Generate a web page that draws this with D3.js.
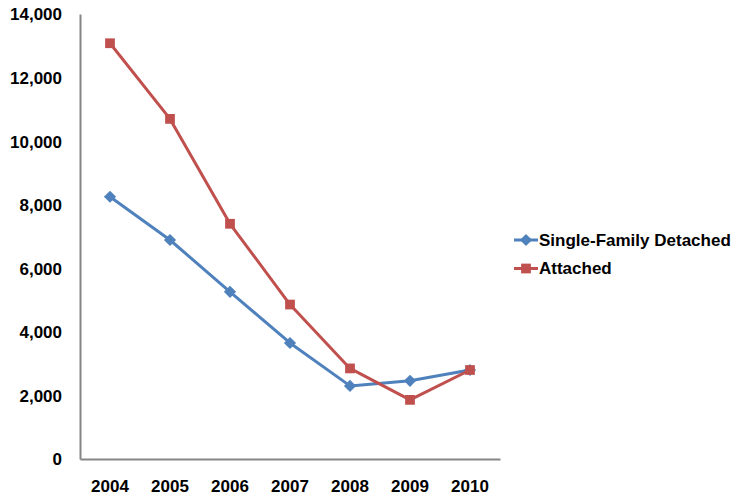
<!DOCTYPE html>
<html>
<head>
<meta charset="utf-8">
<title>Single-Family Detached vs Attached</title>
<script src="https://cdnjs.cloudflare.com/ajax/libs/d3/7.8.5/d3.min.js"></script>
<style>
	body { margin: 0; background: #fff; }
	text { font-family: "Liberation Sans", Arial, sans-serif; font-weight: bold; fill: #000; }
</style>
</head>
<body>
<svg id="chart" width="731" height="498"></svg>
<script>

	var years = ["2004", "2005", "2006", "2007", "2008", "2009", "2010"];
	var detached = [8250, 6890, 5260, 3650, 2300, 2460, 2800];
	var attached = [13080, 10700, 7400, 4860, 2850, 1860, 2800];
	var yTicks = [0, 2000, 4000, 6000, 8000, 10000, 12000, 14000];

	var series = [
		{name: "Single-Family Detached", values: detached, color: "#4F81BD", marker: d3.symbolDiamond2, size: 95},
		{name: "Attached", values: attached, color: "#C0504D", marker: d3.symbolSquare, size: 95}
	];

	var svg = d3.select("#chart"),
	    margin = {top: 14, right: 231, bottom: 39, left: 80},
	    width = +svg.attr("width") - margin.left - margin.right,
	    height = +svg.attr("height") - margin.top - margin.bottom,
	    g = svg.append("g").attr("transform", "translate(" + margin.left + "," + margin.top + ")");

	var x = d3.scaleBand()
	    .domain(years)
	    .range([0, width]);

	var y = d3.scaleLinear()
	    .domain([0, 14000])
	    .range([height, 0]);

	// y axis
	var yAxis = g.append("g")
	    .call(d3.axisLeft(y).tickValues(yTicks).tickSize(0).tickPadding(18).tickFormat(d3.format(",")));
	yAxis.select(".domain").attr("stroke", "#868686").attr("stroke-width", 2);
	yAxis.selectAll("text").style("font-size", "17px").attr("dy", "0.35em");

	// x axis
	var xAxis = g.append("g")
	    .attr("transform", "translate(0," + height + ")")
	    .call(d3.axisBottom(x).tickSize(0).tickPadding(21));
	xAxis.select(".domain").attr("stroke", "#868686").attr("stroke-width", 2);
	xAxis.selectAll("text").style("font-size", "17px");

	var line = d3.line()
	    .x(function(d, i) { return x(years[i]) + x.bandwidth() / 2; })
	    .y(function(d) { return y(d); });

	series.forEach(function(s) {
		g.append("path")
		    .datum(s.values)
		    .attr("fill", "none")
		    .attr("stroke", s.color)
		    .attr("stroke-width", 3)
		    .attr("stroke-linejoin", "round")
		    .attr("d", line);

		g.selectAll(null)
		    .data(s.values)
		  .enter().append("path")
		    .attr("transform", function(d, i) { return "translate(" + (x(years[i]) + x.bandwidth() / 2) + "," + y(d) + ")"; })
		    .attr("d", d3.symbol().type(s.marker).size(s.size))
		    .attr("fill", s.color);
	});

	// legend
	var legend = svg.append("g").attr("transform", "translate(514,240)");
	series.forEach(function(s, i) {
		var row = legend.append("g").attr("transform", "translate(0," + (i * 28.5) + ")");
		row.append("line")
		    .attr("x1", 0).attr("x2", 24)
		    .attr("stroke", s.color).attr("stroke-width", 3);
		row.append("path")
		    .attr("transform", "translate(12,0)")
		    .attr("d", d3.symbol().type(s.marker).size(s.size))
		    .attr("fill", s.color);
		row.append("text")
		    .attr("x", 25)
		    .attr("dy", "0.35em")
		    .style("font-size", "17px")
		    .text(s.name);
	});

</script>
</body>
</html>
